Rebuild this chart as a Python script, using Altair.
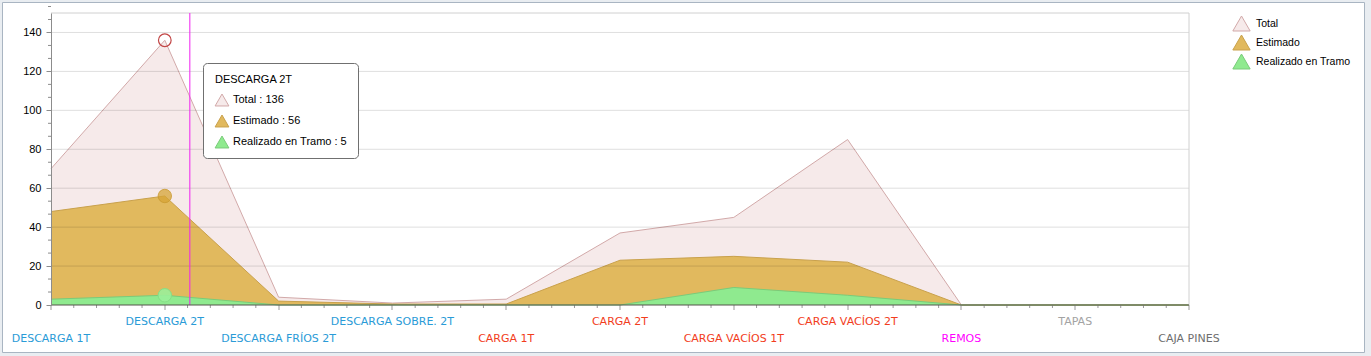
import json
import altair as alt
import pandas as pd

# ---------------- data ----------------
categories = [
    "DESCARGA 1T", "DESCARGA 2T", "DESCARGA FRÍOS 2T", "DESCARGA SOBRE. 2T",
    "CARGA 1T", "CARGA 2T", "CARGA VACÍOS 1T", "CARGA VACÍOS 2T",
    "REMOS", "TAPAS", "CAJA PINES",
]
total = [70, 136, 4, 1, 3, 37, 45, 85, 0, 0, 0]
estimado = [48, 56, 2, 0.5, 0.5, 23, 25, 22, 0, 0, 0]
realizado = [3, 5, 0, 0, 0, 0, 9, 5, 0, 0, 0]

series_names = ["Total", "Estimado", "Realizado en Tramo"]
series_values = [total, estimado, realizado]
fill_colors = ["#f6eaea", "#e1b95e", "#8fea8f"]
stroke_colors = ["#d2a9a9", "#c9a14c", "#7acb7a"]

blue, red = "#2a9bd7", "#f23d1d"
label_colors = [blue] * 4 + [red] * 4 + ["#ff00ff", "#a3a3a3", "#6e6e6e"]

y_ticks = [0, 20, 40, 60, 80, 100, 120, 140]
hover_index = 1
cursor_pos = 1.22

W, H = 1138, 292

# ---------------- tables ----------------
rows = []
for name, vals in zip(series_names, series_values):
    for i, v in enumerate(vals):
        rows.append({"idx": i, "serie": name, "valor": v})
df = pd.DataFrame(rows)

n = len(categories)
x_minor = pd.DataFrame({"idx": [i + k / 5 for i in range(n - 1) for k in range(1, 5)]})
y_minor = pd.DataFrame({"valor": [t + k * 20 / 3 for t in y_ticks for k in (1, 2)]})
grid_df = pd.DataFrame({"valor": y_ticks[1:]})
top_df = pd.DataFrame({"valor": [150]})
right_df = pd.DataFrame({"idx": [n - 1]})
cursor_df = pd.DataFrame({"idx": [cursor_pos]})
hover_df = pd.DataFrame({
    "idx": [hover_index] * 3,
    "serie": series_names,
    "valor": [v[hover_index] for v in series_values],
})
one = pd.DataFrame({"a": [0]})
tip_df = pd.DataFrame({
    "py": [87 + 21 * i for i in range(3)],
    "txt": [f"{s} : {v[hover_index]}" for s, v in zip(series_names, series_values)],
    "fillc": fill_colors,
    "strokec": stroke_colors,
})

# ---------------- scales / axes ----------------
xscale = alt.Scale(domain=[0, n - 1], nice=False, zero=False)
yscale = alt.Scale(domain=[0, 150], nice=False)

label_expr = json.dumps(categories, ensure_ascii=False) + "[datum.value]"
label_color = {
    "condition": [{"test": f"datum.value == {i}", "value": c} for i, c in enumerate(label_colors[:-1])],
    "value": label_colors[-1],
}
label_pad = {"condition": {"test": "datum.value % 2 == 1", "value": 6}, "value": 23}

xaxis = alt.Axis(
    values=list(range(n)), labelExpr=label_expr, labelColor=label_color,
    labelPadding=label_pad, labelFont="DejaVu Sans", labelFontSize=11,
    labelFlush=False, labelOverlap=False, tickSize=5, tickColor="#999999",
    domainColor="#55554a", grid=False, title=None, zindex=1, translate=0,
)
yaxis = alt.Axis(
    values=y_ticks, labelFont="Liberation Sans", labelFontSize=11, labelColor="#000000",
    tickSize=5, tickColor="#8c8c8c", domainColor="#8c8c8c", labelPadding=5,
    grid=False, title=None, zindex=1,
)
X = alt.X("idx:Q", scale=xscale, axis=xaxis)
Y = alt.Y("valor:Q", scale=yscale, axis=yaxis)

legend = alt.Legend(
    title=None, orient="none", legendX=1181, legendY=1, symbolType="triangle-up",
    symbolSize=300, labelFont="Liberation Sans", labelFontSize=10.5, labelColor="#000000",
    rowPadding=-5, padding=0, labelOffset=5, symbolStrokeWidth=1, symbolOpacity=1,
)
FILL = alt.Fill("serie:N", scale=alt.Scale(domain=series_names, range=fill_colors), legend=legend)
STROKE = alt.Stroke("serie:N", scale=alt.Scale(domain=series_names, range=stroke_colors), legend=legend)

# ---------------- layers ----------------
panel = alt.Chart(one).mark_rect(fill="white", stroke="#a9b5c2", strokeWidth=1).encode(
    x=alt.value(-48.5), x2=alt.value(1313.5), y=alt.value(-10.5), y2=alt.value(339.5)
)

base = alt.Chart(df)
series_layers = []
for s in series_names:
    sub = base.transform_filter(alt.datum.serie == s)
    series_layers.append(sub.mark_area(strokeWidth=0, opacity=1).encode(x=X, y=Y, fill=FILL, stroke=STROKE))
    series_layers.append(sub.mark_line(strokeWidth=1).encode(x=X, y=Y, stroke=STROKE))

grid = alt.Chart(grid_df).mark_rule(color="#000000", opacity=0.13).encode(
    y=Y, x=alt.value(0), x2=alt.value(W)
)
top = alt.Chart(top_df).mark_rule(color="#d0d0d0").encode(y=Y, x=alt.value(0), x2=alt.value(W))
right = alt.Chart(right_df).mark_rule(color="#d0d0d0").encode(x=X, y=alt.value(0), y2=alt.value(H))
xmin = alt.Chart(x_minor).mark_rule(color="#999999").encode(x=X, y=alt.value(H), y2=alt.value(H + 3))
ymin = alt.Chart(y_minor).mark_rule(color="#8c8c8c").encode(y=Y, x=alt.value(-3), x2=alt.value(0))

cursor = alt.Chart(cursor_df).mark_rule(color="#f020f0", strokeWidth=1).encode(
    x=X, y=alt.value(0), y2=alt.value(H)
)

hb = alt.Chart(hover_df)
m_total = hb.transform_filter(alt.datum.serie == series_names[0]).mark_point(
    shape="circle", size=160, filled=False, stroke="#c24646", strokeWidth=1.2, opacity=1
).encode(x=X, y=Y)
m_est = hb.transform_filter(alt.datum.serie == series_names[1]).mark_point(
    shape="circle", size=180, filled=True, fill="#d6a436", fillOpacity=0.75,
    stroke="#c9992e", strokeWidth=1, strokeOpacity=0.8
).encode(x=X, y=Y)
m_real = hb.transform_filter(alt.datum.serie == series_names[2]).mark_point(
    shape="circle", size=180, filled=True, fill="#9af09a", fillOpacity=0.9,
    stroke="#86de86", strokeWidth=1
).encode(x=X, y=Y)

tip_box = alt.Chart(one).mark_rect(
    fill="white", stroke="#707070", strokeWidth=1, cornerRadius=4
).encode(x=alt.value(152.5), x2=alt.value(307.5), y=alt.value(50.5), y2=alt.value(145.5))
tip_title = alt.Chart(one).mark_text(
    text=categories[hover_index], align="left", baseline="middle",
    font="Liberation Sans", fontSize=11, color="#000000"
).encode(x=alt.value(164), y=alt.value(67))
tip_sym = alt.Chart(tip_df).mark_point(shape="triangle-up", size=190, filled=True, strokeWidth=1, opacity=1).encode(
    x=alt.value(171), y=alt.Y("py:Q", scale=None),
    fill=alt.Fill("fillc:N", scale=None), stroke=alt.Stroke("strokec:N", scale=None)
)
tip_txt = alt.Chart(tip_df).mark_text(
    align="left", baseline="middle", font="Liberation Sans", fontSize=11, color="#000000"
).encode(x=alt.value(182), y=alt.Y("py:Q", scale=None), text="txt:N")

chart = alt.layer(
    panel, *series_layers, grid, top, right, xmin, ymin, cursor,
    m_total, m_est, m_real, tip_box, tip_title, tip_sym, tip_txt
).properties(
    width=W, height=H,
    autosize=alt.AutoSizeParams(type="none"),
    padding={"left": 51, "top": 13, "right": 182, "bottom": 51},
    background="#e9edf1",
).configure_view(strokeWidth=0)

chart.save("out.html", embed_options={"renderer": "svg", "actions": False})
